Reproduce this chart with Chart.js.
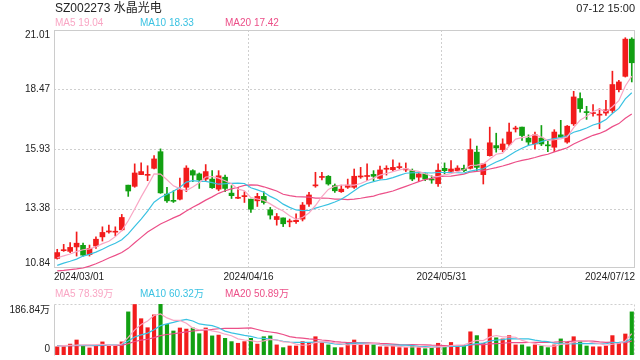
<!DOCTYPE html>
<html><head><meta charset="utf-8">
<script src="https://cdn.jsdelivr.net/npm/chart.js@4"></script>
<style>
html,body{margin:0;padding:0;background:#fff;}
#wrap{position:relative;width:640px;height:360px;overflow:hidden;font-family:Arial,"Liberation Sans","Noto Sans CJK SC",sans-serif;}
.t{position:absolute;white-space:nowrap;line-height:1;}
canvas{position:absolute;left:0;}
</style></head>
<body><div id="wrap">
<canvas id="main" width="640" height="290" style="top:0;width:640px;height:290px"></canvas>
<canvas id="vol" width="640" height="70" style="top:290px;width:640px;height:70px"></canvas>
</div>
<script>
const title = 'SZ002273 水晶光电';
const stamp = '07-12 15:00';
const maLegend = ['MA5 19.04', 'MA10 18.33', 'MA20 17.42'];
const volLegend = ['MA5 78.39万', 'MA10 60.32万', 'MA20 50.89万'];
const xTickLabels = ['2024/03/01', '2024/04/16', '2024/05/31', '2024/07/12'];
const yTicks = [10.84, 13.38, 15.93, 18.47, 21.01];
const yTickLabels = ['10.84', '13.38', '15.93', '18.47', '21.01'];
const volTicks = [0, 186.84];
const volTickLabels = ['0', '186.84万'];

const dates = ['03/01','03/04','03/05','03/06','03/07','03/08','03/11','03/12','03/13','03/14','03/15',
'03/18','03/19','03/20','03/21','03/22','03/25','03/26','03/27','03/28','03/29',
'04/01','04/02','04/03','04/08','04/09','04/10','04/11','04/12','04/15','04/16','04/17','04/18','04/19',
'04/22','04/23','04/24','04/25','04/26','04/29','04/30',
'05/06','05/07','05/08','05/09','05/10','05/13','05/14','05/15','05/16','05/17',
'05/20','05/21','05/22','05/23','05/24','05/27','05/28','05/29','05/30','05/31',
'06/03','06/04','06/05','06/06','06/07','06/11','06/12','06/13','06/14',
'06/17','06/18','06/19','06/20','06/21','06/24','06/25','06/26','06/27','06/28',
'07/01','07/02','07/03','07/04','07/05','07/08','07/09','07/10','07/11','07/12'];

const open = [11.25,11.58,11.55,11.74,11.81,11.41,11.78,12.17,12.38,12.37,
12.47,14.38,14.33,14.83,14.80,15.10,15.81,14.00,13.71,13.78,
14.29,15.00,14.86,14.64,14.64,14.21,14.72,14.04,13.82,13.89,
13.78,13.71,13.90,13.33,12.91,12.98,12.81,12.82,12.93,13.57,
14.35,14.71,14.76,14.36,14.10,14.29,14.29,14.73,14.75,14.84,
14.67,15.06,15.04,15.13,15.03,15.00,14.72,14.86,14.62,14.44,
15.10,14.97,15.00,15.10,15.10,15.79,14.83,15.64,16.07,15.90,
16.14,16.78,16.86,16.39,16.14,16.39,16.08,16.00,16.53,16.22,
17.00,18.08,17.52,17.44,17.37,17.46,17.57,18.46,19.03,20.62];
const high = [11.64,11.85,11.93,12.38,11.90,11.82,12.17,12.60,12.67,12.60,
13.13,14.38,15.29,15.33,15.21,15.64,15.93,14.29,14.14,14.68,
15.21,15.04,14.90,15.26,15.00,15.00,14.81,14.36,14.29,14.10,
13.78,14.03,14.10,13.43,13.17,12.98,12.93,13.15,13.64,14.07,
14.93,14.93,14.79,14.43,14.38,14.64,15.07,15.14,15.29,15.00,
15.19,15.21,15.46,15.33,15.33,15.07,14.90,14.90,14.78,15.29,
15.33,15.43,15.21,15.24,16.36,16.05,15.29,16.86,16.60,16.36,
17.03,16.90,16.86,16.53,16.65,16.93,16.29,16.75,17.15,16.93,
18.39,18.32,17.75,17.82,17.65,18.00,19.25,18.86,20.68,20.68];
const low = [11.22,11.55,11.50,11.35,11.35,11.35,11.68,11.99,12.33,12.21,
12.43,13.90,14.29,14.83,14.57,15.07,14.03,13.64,13.64,13.75,
14.10,14.53,14.24,14.57,14.24,14.14,14.10,13.81,13.80,13.64,
13.21,13.47,13.57,12.93,12.67,12.61,12.60,12.75,12.85,13.47,
14.29,14.60,14.38,14.07,14.07,14.24,14.24,14.67,14.57,14.57,
14.64,14.81,15.00,15.07,14.96,14.57,14.53,14.57,14.46,14.33,
14.86,14.93,14.97,14.96,15.07,15.00,14.43,15.62,15.79,15.81,
16.07,16.65,16.29,16.10,15.93,16.07,15.81,15.81,16.43,16.17,
16.93,17.50,17.19,17.33,16.79,17.36,17.48,18.36,19.00,18.79];
const close = [11.50,11.60,11.72,11.90,11.39,11.68,12.07,12.36,12.40,12.39,
13.00,14.13,14.90,14.96,14.82,15.50,14.05,13.71,13.69,14.18,
15.11,14.81,14.60,14.96,14.27,14.78,14.24,13.93,13.84,13.91,
13.35,13.90,13.64,13.10,13.04,12.73,12.83,12.88,13.53,13.96,
14.37,14.73,14.43,14.14,14.21,14.38,14.76,14.75,14.77,14.76,
15.03,15.08,15.14,15.15,15.05,14.64,14.86,14.64,14.60,15.02,
15.00,15.07,15.11,15.00,15.90,15.14,15.29,16.19,15.97,16.14,
16.65,16.80,16.50,16.22,16.53,16.14,16.06,16.65,16.43,16.90,
18.15,17.65,17.48,17.47,17.40,17.60,18.68,18.79,20.62,19.61];

const ma5 = [11.28,11.36,11.44,11.54,11.62,11.66,11.75,11.88,11.98,12.18,
12.44,12.86,13.36,13.88,14.36,14.86,14.85,14.61,14.35,14.23,
14.15,14.30,14.48,14.73,14.75,14.68,14.57,14.44,14.21,14.14,
13.85,13.79,13.73,13.58,13.41,13.28,13.07,12.92,13.00,13.19,
13.51,13.89,14.20,14.33,14.38,14.38,14.38,14.45,14.57,14.68,
14.81,14.88,14.96,15.03,15.09,15.01,14.97,14.87,14.76,14.75,
14.82,14.87,14.96,15.04,15.22,15.24,15.29,15.50,15.70,15.75,
16.05,16.35,16.41,16.46,16.54,16.44,16.29,16.32,16.36,16.44,
16.84,17.16,17.32,17.53,17.63,17.52,17.73,17.99,18.62,19.04];
const ma10 = [10.95,11.05,11.13,11.22,11.35,11.42,11.52,11.64,11.78,11.90,
12.05,12.30,12.62,12.93,13.27,13.65,13.85,13.99,14.12,14.29,
14.51,14.57,14.54,14.54,14.49,14.42,14.44,14.46,14.47,14.45,
14.27,14.18,14.08,13.90,13.77,13.57,13.43,13.32,13.29,13.30,
13.40,13.48,13.56,13.66,13.78,13.95,14.14,14.33,14.45,14.53,
14.60,14.63,14.70,14.80,14.89,14.91,14.92,14.91,14.90,14.92,
14.92,14.92,14.91,14.90,14.98,15.03,15.08,15.23,15.37,15.48,
15.65,15.82,15.96,16.08,16.14,16.24,16.32,16.37,16.41,16.49,
16.64,16.72,16.82,16.95,17.03,17.18,17.44,17.66,18.07,18.33];
const ma20 = [10.72,10.74,10.77,10.80,10.84,10.92,11.02,11.14,11.27,11.38,
11.50,11.68,11.92,12.15,12.38,12.55,12.72,12.85,12.98,13.10,
13.28,13.44,13.58,13.74,13.88,14.03,14.14,14.22,14.29,14.37,
14.39,14.38,14.31,14.22,14.13,13.99,13.93,13.89,13.88,13.87,
13.83,13.83,13.82,13.78,13.78,13.76,13.78,13.82,13.87,13.91,
14.00,14.06,14.13,14.23,14.33,14.43,14.53,14.62,14.67,14.73,
14.76,14.77,14.81,14.85,14.94,14.97,15.00,15.07,15.13,15.20,
15.28,15.37,15.44,15.49,15.56,15.64,15.70,15.80,15.89,15.98,
16.14,16.27,16.39,16.51,16.59,16.71,16.88,17.01,17.24,17.42];

const vol = [30,30,40,55,33,26,35,48,35,35,
48,158,185,133,100,147,186.84,112,88,99,
95,99,78,99,70,73,61,49,43,49,
61,40,67,70,37,27,33,33,49,46,
67,46,37,27,27,46,55,37,37,37,
30,30,33,27,27,33,27,23,27,43,
33,46,33,33,85,71,43,95,63,59,
71,37,37,30,37,33,27,37,59,46,
67,51,33,30,30,33,71,46,77,158];
const vma5 = [33,34,35,36,37.6,36.8,37.8,39.4,35.4,35.8,
40.2,64.8,92.2,111.8,124.8,144.6,150.4,135.8,126.8,126.6,
116.2,98.6,91.8,94,88.2,83.8,76.2,70.4,59.2,55,
52.6,48.4,52,57.4,55,48.2,46.8,40,35.8,37.6,
45.6,48.2,49,44.6,40.8,36.6,38.4,38.4,40.4,42.4,
39.2,34.2,33.4,31.4,29.4,30,29.4,27.4,27.4,30.6,
30.6,34.4,36.4,37.6,46,53.6,53,65.4,71.4,66.2,
66.2,65,53.4,46.8,42.4,34.8,32.8,32.8,38.6,40.4,
47.2,52,51.2,45.4,42.2,35.4,39.4,42,51.4,78.39];
const vma10 = [34,34,34,35,35,35,35,36,36,36.7,
38.5,51.3,65.8,73.6,80.3,92.4,107.6,114,119.3,125.7,
130.4,124.5,113.8,110.4,107.4,100,87.4,81.1,76.6,71.6,
68.2,62.3,61.2,58.3,55,50.4,47.6,46,46.6,46.3,
46.9,47.5,44.5,40.2,39.2,41.1,43.3,43.7,42.5,41.6,
37.9,36.3,35.9,35.9,35.9,34.6,31.8,30.4,29.4,30,
30.3,31.9,31.9,32.5,38.3,42.1,43.7,50.9,54.5,56.1,
59.9,59,59.4,59.1,54.3,50.5,48.9,43.1,42.7,41.4,
41,42.4,42,42,41.3,41.3,45.7,46.6,48.4,60.32];
const vma20 = [34,34,34,34,34,34,34.5,35,35,35,
35.6,41.8,49.4,54.4,57.8,63.5,71.2,75.1,77.9,81.2,
84.4,87.9,89.8,92,93.8,96.2,97.5,97.5,97.9,98.6,
99.3,93.4,87.5,84.3,81.2,75.2,67.5,63.6,61.6,59,
57.6,54.9,52.9,49.3,47.1,45.8,45.5,44.9,44.6,44,
42.4,41.9,40.2,38.1,37.6,37.9,37.6,37.1,36,35.8,
34.1,34.1,33.9,34.2,37.1,38.4,37.8,40.7,42,43.1,
45.1,45.5,45.7,45.8,46.3,46.3,46.3,47,48.6,48.8,
50.5,50.7,50.7,50.6,47.8,45.9,47.3,44.9,45.6,50.89];

const UP = '#f21c1c', DOWN = '#12a012';
const C5 = '#f9a6c4', C10 = '#3ac2e2', C20 = '#ec4f88';
const GRID = '#cfcfcf', BORDER = '#cccccc', TXT = '#222';
const FONT = '10px Arial, "Liberation Sans", "Noto Sans CJK SC", sans-serif';

const wrap = document.getElementById('wrap');
function addText(txt, css) {
  const d = document.createElement('div');
  d.className = 't'; d.textContent = txt;
  Object.assign(d.style, css);
  wrap.appendChild(d);
}
addText(title, {left:'55px', top:'2px', fontSize:'12px', color:'#222'});
addText(stamp, {right:'5px', top:'3px', fontSize:'11px', color:'#222'});
const legX = [55, 140, 225], legC = [C5, C10, C20];
maLegend.forEach((s, k) => addText(s, {left:legX[k]+'px', top:'18px', fontSize:'10px', color:legC[k]}));
volLegend.forEach((s, k) => addText(s, {left:legX[k]+'px', top:'289px', fontSize:'10px', color:legC[k]}));

const colors = close.map((c, i) => c >= open[i] ? UP : DOWN);
const boundaryIdx = xTickLabels.slice(1, -1).map(l => dates.indexOf(l.slice(5)));

function vLinePx(x, i) {
  return Math.round((x.getPixelForValue(i - 1) + x.getPixelForValue(i)) / 2) + 0.5;
}

const deco = {
  id: 'deco',
  beforeDatasetsDraw(chart, args, o) {
    const {ctx, chartArea: a, scales: {x, y}} = chart;
    ctx.save();
    ctx.lineWidth = 1;
    ctx.strokeStyle = GRID;
    ctx.setLineDash([2, 2]);
    o.hLines.forEach(v => {
      const py = Math.round(y.getPixelForValue(v)) + 0.5;
      ctx.beginPath(); ctx.moveTo(a.left, py); ctx.lineTo(a.right, py); ctx.stroke();
    });
    boundaryIdx.forEach(i => {
      const px = vLinePx(x, i);
      ctx.beginPath(); ctx.moveTo(px, a.top); ctx.lineTo(px, a.bottom); ctx.stroke();
    });
    const L = Math.round(a.left) + 0.5, R = Math.round(a.right) - 0.5, T = Math.round(a.top) + 0.5, B = Math.round(a.bottom) - 0.5;
    if (o.solidBox) {
      ctx.setLineDash([]);
      ctx.strokeStyle = BORDER;
      ctx.strokeRect(L, T, R - L, B - T);
    } else {
      ctx.beginPath(); ctx.moveTo(L, T); ctx.lineTo(R, T); ctx.lineTo(R, B + 1); ctx.stroke();
      ctx.setLineDash([]);
      ctx.strokeStyle = BORDER;
      ctx.beginPath(); ctx.moveTo(L, T); ctx.lineTo(L, B + 1); ctx.stroke();
    }
    ctx.restore();
  },
  afterDraw(chart, args, o) {
    const {ctx, chartArea: a, scales: {y, x}} = chart;
    ctx.save();
    ctx.font = FONT; ctx.fillStyle = TXT; ctx.textAlign = 'right'; ctx.textBaseline = 'middle';
    const n = o.ticks.length;
    o.ticks.forEach((v, k) => {
      let py = y.getPixelForValue(v);
      if (k === 0) py -= o.edgeShift;
      if (k === n - 1) py += o.edgeShift;
      ctx.fillText(o.labels[k], a.left - 4, py);
    });
    if (o.dates) {
      ctx.textBaseline = 'middle';
      xTickLabels.forEach((s, k) => {
        let px, al;
        if (k === 0) { px = a.left; al = 'left'; }
        else if (k === xTickLabels.length - 1) { px = a.right; al = 'right'; }
        else { px = vLinePx(x, boundaryIdx[k - 1]); al = 'center'; }
        ctx.textAlign = al;
        ctx.fillText(s, px, a.bottom + 9);
      });
    }
    ctx.restore();
  }
};

const common = {
  responsive: false, animation: false, events: [],
  plugins: {legend: {display: false}, tooltip: {enabled: false}},
};

new Chart(document.getElementById('main'), {
  type: 'bar',
  data: {
    labels: dates,
    datasets: [
      {type: 'line', data: ma5, borderColor: C5, borderWidth: 1.2, pointRadius: 0, tension: 0, order: 0},
      {type: 'line', data: ma10, borderColor: C10, borderWidth: 1.2, pointRadius: 0, tension: 0, order: 0},
      {type: 'line', data: ma20, borderColor: C20, borderWidth: 1.2, pointRadius: 0, tension: 0, order: 0, clip: {left: 0, top: 0, right: 0, bottom: 4}},
      {type: 'bar', data: open.map((o, i) => [o, close[i]]), backgroundColor: colors, barThickness: 5, grouped: false, minBarLength: 1, order: 1},
      {type: 'bar', data: low.map((l, i) => [l, high[i]]), backgroundColor: colors, barThickness: 1, grouped: false, order: 2}
    ]
  },
  options: Object.assign({}, common, {
    layout: {padding: {left: 54, right: 5, top: 30, bottom: 22}},
    plugins: Object.assign({}, common.plugins, {deco: {hLines: yTicks.slice(1, -1), solidBox: true, ticks: yTicks, labels: yTickLabels, edgeShift: 5, dates: true}}),
    scales: {
      x: {display: false, offset: true},
      y: {display: false, min: yTicks[0], max: yTicks[yTicks.length - 1]}
    }
  }),
  plugins: [deco]
});

new Chart(document.getElementById('vol'), {
  type: 'bar',
  data: {
    labels: dates,
    datasets: [
      {type: 'line', data: vma5, borderColor: C5, borderWidth: 1.2, pointRadius: 0, tension: 0, order: 0},
      {type: 'line', data: vma10, borderColor: C10, borderWidth: 1.2, pointRadius: 0, tension: 0, order: 0},
      {type: 'line', data: vma20, borderColor: C20, borderWidth: 1.2, pointRadius: 0, tension: 0, order: 0},
      {type: 'bar', data: vol, backgroundColor: colors, barThickness: 3.5, grouped: false, order: 1}
    ]
  },
  options: Object.assign({}, common, {
    layout: {padding: {left: 54, right: 5, top: 14, bottom: 5}},
    plugins: Object.assign({}, common.plugins, {deco: {hLines: [], solidBox: false, ticks: volTicks, labels: volTickLabels, edgeShift: 6, dates: false}}),
    scales: {
      x: {display: false, offset: true},
      y: {display: false, min: volTicks[0], max: volTicks[1]}
    }
  }),
  plugins: [deco]
});
</script>
</body></html>
